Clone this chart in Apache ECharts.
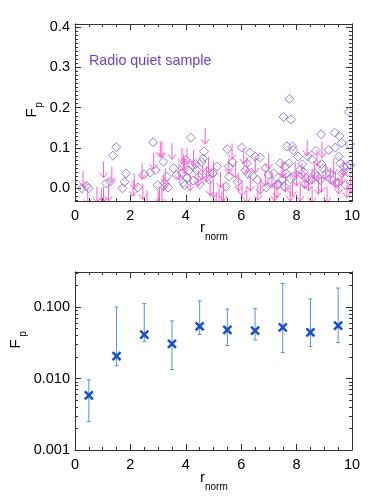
<!DOCTYPE html>
<html>
<head>
<meta charset="utf-8">
<script src="https://cdn.jsdelivr.net/npm/echarts@6/dist/echarts.min.js"></script>
<style>
  html, body { margin: 0; padding: 0; background: #fff; }
  #chart { width: 374px; height: 498px; }
</style>
</head>
<body>
<div id="chart"></div>
<script>
// radio quiet sample: detections (diamonds)
const quietR = [0.25, 0.41, 0.49, 1.13, 1.28, 1.37, 1.49, 1.71, 1.79, 1.84, 2.27, 2.5, 2.72, 2.82, 2.91, 2.98,
  3.19, 3.24, 3.31, 3.36, 3.56, 3.66, 3.86, 3.91, 3.95, 4.0, 4.04, 4.12, 4.18, 4.22, 4.26, 4.35, 4.4, 4.48, 4.5,
  4.57, 4.62, 4.66, 4.79, 4.86, 4.98, 5.13, 5.45, 5.5, 5.55, 5.56, 5.69, 5.87, 6.02, 6.15, 6.21, 6.25, 6.32,
  6.41, 6.5, 6.59, 6.68, 6.88, 6.9, 6.98, 7.09, 7.17, 7.29, 7.35, 7.41, 7.48, 7.53, 7.55, 7.59, 7.63, 7.65,
  7.73, 7.74, 7.77, 7.8, 7.85, 7.88, 7.9, 8.05, 8.13, 8.2, 8.25, 8.3, 8.35, 8.4, 8.5, 8.56, 8.66, 8.7, 8.74,
  8.86, 8.88, 8.9, 8.96, 9.07, 9.16, 9.22, 9.3, 9.37, 9.4, 9.46, 9.5, 9.52, 9.55, 9.58, 9.63, 9.64, 9.7, 9.76,
  9.82, 9.85, 9.88, 9.92, 9.94]
const quietF = [0.0, 0.006, 0.0, 0.012, 0.017, 0.081, 0.102, 0.0, 0.016, 0.037, 0.002, 0.035, 0.039, 0.114, 0.045, 0.008,
  0.066, 0.012, 0.029, 0.002, 0.05, 0.033, 0.037, 0.014, 0.008, 0.07, 0.025, 0.044, 0.126, 0.056, 0.019, 0.06, 0.045, 0.029, 0.01,
  0.065, 0.074, 0.091, 0.041, 0.021, 0.037, 0.054, 0.004, 0.097, 0.054, 0.029, 0.065, 0.016, 0.101, 0.045, 0.062, 0.036, 0.089,
  0.031, 0.079, 0.021, 0.077, 0.05, 0.002, 0.033, 0.017, 0.037, 0.008, 0.01, 0.062, 0.021, 0.177, 0.005, 0.054, 0.037, 0.104,
  0.062, 0.222, 0.023, 0.171, 0.104, 0.095, 0.03, 0.079, 0.046, 0.06, 0.041, 0.01, 0.025, 0.079, 0.021, 0.072, 0.037, 0.093, 0.029,
  0.021, 0.134, 0.06, 0.05, 0.037, 0.095, 0.037, 0.02, 0.138, 0.101, 0.012, 0.015, 0.079, 0.13, 0.062, 0.113, 0.037, 0.054, 0.008,
  0.055, 0.04, 0.19, 0.11, 0.058]

// radio quiet sample: upper limits (arrows)
const limitR = [0.29, 0.46, 0.79, 0.95, 1.03, 1.03, 1.21, 1.33, 2.1, 2.14, 2.42, 2.45, 2.6, 2.84, 3.0, 3.05, 3.08, 3.14, 3.14,
  3.2, 3.26, 3.5, 3.75, 3.86, 3.92, 3.95, 4.04, 4.16, 4.28, 4.45, 4.6, 4.7, 4.75, 4.82, 4.88, 5.0, 5.0, 5.1, 5.2, 5.25, 5.3,
  5.36, 5.55, 5.67, 5.79, 5.91, 6.03, 6.09, 6.2, 6.21, 6.33, 6.51, 6.6, 6.69, 6.87, 6.99, 7.11, 7.2, 7.29, 7.47, 7.51, 7.6,
  7.77, 7.85, 7.95, 8.0, 8.13, 8.19, 8.3, 8.38, 8.43, 8.56, 8.56, 8.65, 8.74, 8.79, 8.9, 8.92, 9.05, 9.1, 9.22, 9.34, 9.4,
  9.52, 9.64, 9.7, 9.82, 9.95]
const limitF = [0.043, 0.0, 0.004, 0.0, 0.066, 0.004, 0.008, 0.054, 0.02, 0.037, 0.062, 0.012, -0.005, 0.087, -0.005, 0.0, 0.116, 0.116, 0.0,
  0.033, 0.05, 0.112, 0.06, 0.1, 0.085, 0.075, 0.1, 0.033, 0.095, 0.045, 0.06, 0.149, 0.055, 0.078, 0.021, 0.066, 0.016, -0.01, 0.0, 0.041, -0.008,
  0.008, 0.075, 0.112, 0.066, 0.033, 0.021, 0.1, 0.004, 0.077, 0.033, 0.078, 0.01, 0.025, 0.045, 0.087, 0.041, 0.008, 0.016, 0.066, 0.066, 0.03,
  0.008, 0.02, 0.066, 0.045, 0.008, 0.062, 0.04, 0.12, 0.033, 0.05, 0.004, 0.06, 0.095, 0.025, 0.03, 0.116, 0.06, 0.004, 0.05, 0.075, 0.04,
  0.025, 0.05, 0.07, 0.016, 0.03]

// binned mean with error range
const binR = [0.5, 1.5, 2.5, 3.5, 4.5, 5.5, 6.5, 7.5, 8.5, 9.5]
const binF = [0.0058, 0.0206, 0.0413, 0.0306, 0.0538, 0.048, 0.0469, 0.052, 0.0444, 0.055]
const binLo = [0.0025, 0.0151, 0.033, 0.0134, 0.0413, 0.029, 0.0348, 0.0232, 0.028, 0.0319]
const binHi = [0.0096, 0.1, 0.112, 0.064, 0.122, 0.094, 0.095, 0.214, 0.13, 0.185]

// ticks
const linTicks = [0, 0.1, 0.2, 0.3, 0.4]
const linLabels = ["0.0", "0.1", "0.2", "0.3", "0.4"]
const logTicks = [-3, -2, -1]
const logLabels = ["0.001", "0.010", "0.100"]

const topMin = -0.0316, topMax = 0.408
const logMin = 0.001, logMax = 0.31

const linMinor = []
for (let i = -3; i <= 40; i++) linMinor.push(i / 100)
const logMinor = []
for (let d = -3; d <= -1; d++) {
  for (let k = 2; k <= 9; k++) {
    const v = Math.log10(k * Math.pow(10, d))
    if (v <= Math.log10(logMax)) logMinor.push(v)
  }
}

const font = '"Liberation Sans", Arial, sans-serif'
const axisColor = "#333"
const diamondColor = "#7a5fe2"
const arrowColor = "#ff5fd2"
const crossColor = "#1450c8"
const barColor = "#5c8fe4"

function xAxisFor(grid, pos, labels) {
  return {
    type: "value",
    gridIndex: grid,
    position: pos,
    min: 0,
    max: 10,
    interval: 2,
    axisLine: { show: true, onZero: false, lineStyle: { color: axisColor } },
    axisTick: { show: true, inside: true, length: 6, lineStyle: { color: axisColor } },
    minorTick: { show: true, splitNumber: 4, length: 3, lineStyle: { color: axisColor } },
    axisLabel: labels
      ? { show: true, color: "#000", fontSize: 14.5, fontFamily: font, margin: 7 }
      : { show: false },
    splitLine: { show: false },
    minorSplitLine: { show: false },
  }
}

function yAxisFor(grid, pos, min, max, values, len, labels) {
  return {
    type: "value",
    gridIndex: grid,
    position: pos,
    min: min,
    max: max,
    axisLine: { show: true, onZero: false, lineStyle: { color: axisColor } },
    axisTick: { show: true, inside: true, length: len, customValues: values, lineStyle: { color: axisColor } },
    axisLabel: labels
      ? {
          show: true,
          customValues: values,
          formatter: (v) => labels[values.findIndex((t) => Math.abs(t - v) < 1e-9)],
          color: "#000",
          fontSize: 14.5,
          fontFamily: font,
          margin: 5,
        }
      : { show: false },
    splitLine: { show: false },
  }
}

function renderLimit(params, api) {
  const p = api.coord([api.value(0), api.value(1)])
  const len = 16
  return {
    type: "group",
    children: [
      {
        type: "line",
        shape: { x1: p[0], y1: p[1], x2: p[0], y2: p[1] + len },
        style: { stroke: arrowColor, lineWidth: 1 },
      },
      {
        type: "polyline",
        shape: { points: [[p[0] - 4, p[1] + len - 5], [p[0], p[1] + len], [p[0] + 4, p[1] + len - 5]] },
        style: { stroke: arrowColor, fill: null, lineWidth: 1 },
      },
    ],
  }
}

function renderBin(params, api) {
  const x = api.value(0)
  const c = api.coord([x, api.value(1)])
  const lo = api.coord([x, api.value(2)])
  const hi = api.coord([x, api.value(3)])
  const s = 4
  return {
    type: "group",
    children: [
      { type: "line", shape: { x1: hi[0], y1: hi[1], x2: lo[0], y2: lo[1] }, style: { stroke: barColor, lineWidth: 1 } },
      { type: "line", shape: { x1: hi[0] - 2, y1: hi[1], x2: hi[0] + 2, y2: hi[1] }, style: { stroke: barColor, lineWidth: 1 } },
      { type: "line", shape: { x1: lo[0] - 2, y1: lo[1], x2: lo[0] + 2, y2: lo[1] }, style: { stroke: barColor, lineWidth: 1 } },
      { type: "line", shape: { x1: c[0] - s, y1: c[1] - s, x2: c[0] + s, y2: c[1] + s }, style: { stroke: crossColor, lineWidth: 2.5 } },
      { type: "line", shape: { x1: c[0] - s, y1: c[1] + s, x2: c[0] + s, y2: c[1] - s }, style: { stroke: crossColor, lineWidth: 2.5 } },
    ],
  }
}

function label(x, y, text, size, rotated) {
  return {
    type: "text",
    x: x,
    y: y,
    rotation: rotated ? Math.PI / 2 : 0,
    style: {
      text: text,
      fill: "#000",
      font: size + "px " + font,
      align: rotated ? "center" : "left",
      verticalAlign: "middle",
    },
  }
}

const chart = echarts.init(document.getElementById("chart"), null, { renderer: "canvas" })

const option = {
  animation: false,
  backgroundColor: "#fff",
  grid: [
    { left: 75, top: 24, width: 277, height: 177 },
    { left: 75, top: 272, width: 277, height: 178 },
  ],
  xAxis: [xAxisFor(0, "bottom", true), xAxisFor(0, "top", false), xAxisFor(1, "bottom", true), xAxisFor(1, "top", false)],
  yAxis: [
    yAxisFor(0, "left", topMin, topMax, linTicks, 6, linLabels),
    yAxisFor(0, "left", topMin, topMax, linMinor, 3, null),
    yAxisFor(0, "right", topMin, topMax, linTicks, 6, null),
    yAxisFor(0, "right", topMin, topMax, linMinor, 3, null),
    { type: "log", logBase: 10, gridIndex: 1, min: logMin, max: logMax, show: false },
    yAxisFor(1, "left", Math.log10(logMin), Math.log10(logMax), logTicks, 6, logLabels),
    yAxisFor(1, "left", Math.log10(logMin), Math.log10(logMax), logMinor, 3, null),
    yAxisFor(1, "right", Math.log10(logMin), Math.log10(logMax), logTicks, 6, null),
    yAxisFor(1, "right", Math.log10(logMin), Math.log10(logMax), logMinor, 3, null),
  ],
  series: [
    {
      name: "detections",
      type: "scatter",
      xAxisIndex: 0,
      yAxisIndex: 0,
      symbol: "diamond",
      symbolSize: 9,
      itemStyle: { color: "rgba(0,0,0,0)", borderColor: diamondColor, borderWidth: 1 },
      data: quietR.map((r, i) => [r, quietF[i]]),
      z: 2,
    },
    {
      name: "upper limits",
      type: "custom",
      xAxisIndex: 0,
      yAxisIndex: 0,
      clip: true,
      renderItem: renderLimit,
      data: limitR.map((r, i) => [r, limitF[i]]),
      z: 3,
    },
    {
      name: "binned",
      type: "custom",
      xAxisIndex: 2,
      yAxisIndex: 4,
      renderItem: renderBin,
      data: binR.map((r, i) => [r, binF[i], binLo[i], binHi[i]]),
      z: 3,
    },
  ],
  graphic: [
    {
      type: "text",
      x: 89,
      y: 61,
      style: { text: "Radio quiet sample", fill: "#6b3fd8", font: "14.3px " + font, align: "left", verticalAlign: "middle" },
    },
    label(200, 228, "r", 15),
    label(205, 237.5, "norm", 10),
    label(200, 478, "r", 15),
    label(205, 487.5, "norm", 10),
    label(32, 113, "F", 15, true),
    label(39, 105, "p", 10, true),
    label(16, 344, "F", 15, true),
    label(23, 334, "p", 10, true),
  ],
}

chart.setOption(option)
</script>
</body>
</html>
